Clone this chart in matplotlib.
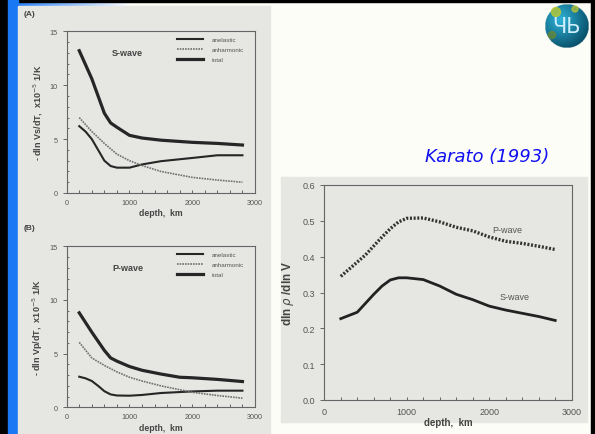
import numpy as np
import matplotlib
matplotlib.use('Agg')
import matplotlib.pyplot as plt
from matplotlib.patches import Rectangle, Circle
from matplotlib.ticker import MultipleLocator, FormatStrFormatter

# S-wave temperature derivatives (x10^-5 1/K)
s_depth = [200, 300, 400, 500, 600, 700, 800, 1000, 1200, 1500, 2000, 2400, 2800]
s_total = [13.2, 11.9, 10.6, 9.0, 7.4, 6.5, 6.1, 5.35, 5.1, 4.9, 4.7, 4.6, 4.45]
s_anel = [6.2, 5.7, 5.0, 4.0, 3.0, 2.5, 2.35, 2.35, 2.65, 2.95, 3.25, 3.5, 3.5]
s_anh_depth = [200, 400, 600, 800, 1000, 1200, 1500, 2000, 2400, 2800]
s_anh = [7.0, 5.7, 4.6, 3.6, 3.0, 2.55, 2.0, 1.45, 1.2, 1.0]

# P-wave temperature derivatives
p_depth = [200, 400, 600, 700, 800, 1000, 1200, 1500, 1800, 2000, 2400, 2800]
p_total = [8.8, 7.0, 5.3, 4.6, 4.3, 3.8, 3.45, 3.1, 2.8, 2.75, 2.6, 2.4]
p_anel_depth = [200, 300, 400, 500, 600, 700, 800, 1000, 1200, 1500, 2000, 2400, 2800]
p_anel = [2.85, 2.7, 2.45, 2.0, 1.5, 1.2, 1.1, 1.08, 1.15, 1.33, 1.48, 1.55, 1.55]
p_anh_depth = [200, 400, 600, 800, 1000, 1200, 1500, 2000, 2400, 2800]
p_anh = [6.05, 4.6, 3.9, 3.3, 2.8, 2.45, 2.0, 1.4, 1.1, 0.85]

# density / velocity scaling
r_p_depth = [200, 300, 400, 500, 600, 700, 800, 900, 1000, 1200, 1400, 1600, 1800, 2000, 2200, 2400, 2600, 2800]
r_p = [0.345, 0.365, 0.385, 0.405, 0.43, 0.455, 0.478, 0.497, 0.507, 0.508, 0.497, 0.482, 0.472,
       0.455, 0.443, 0.437, 0.429, 0.42]
r_s_depth = [200, 400, 500, 600, 700, 800, 900, 1000, 1200, 1400, 1600, 1800, 2000, 2200, 2400, 2600, 2800]
r_s = [0.227, 0.245, 0.27, 0.295, 0.318, 0.335, 0.341, 0.341, 0.336, 0.318, 0.295, 0.28, 0.262,
       0.251, 0.242, 0.233, 0.222]

W, H = 595, 435
PANEL = '#e6e6e3'
INK = '#262626'
TXT = '#555555'
plt.rcParams['font.family'] = ['Liberation Sans', 'DejaVu Sans']

fig = plt.figure(figsize=(W / 100, H / 100), dpi=100)
fig.patch.set_facecolor('#fdfdf7')

# background layer in pixel coordinates
bg = fig.add_axes([0, 0, 1, 1])
bg.set_xlim(0, W)
bg.set_ylim(H, 0)
bg.axis('off')
bg.add_patch(Rectangle((0, 0), W, 3, color='black'))
bg.add_patch(Rectangle((0, 0), 8, H, color='black'))
bg.add_patch(Rectangle((591, 0), 4, H, color='black'))
bg.add_patch(Rectangle((8, 0), 10, H, color='#1a78f5'))
grad = np.linspace(0, 1, 200)[None, :]
bg.imshow(np.dstack([0.1 + 0.9 * grad, 0.47 + 0.53 * grad, 0.96 + 0.04 * grad]),
          extent=(8, 130, 7, 3), aspect='auto')
bg.add_patch(Rectangle((18, 7), 252, H - 7, color=PANEL))
bg.add_patch(Rectangle((281, 178), 306, 245, color=PANEL))

# logo globe
yy, xx = np.mgrid[-1:1:120j, -1:1:120j]
rr = np.sqrt(xx ** 2 + yy ** 2)
shade = np.clip(1 - 0.7 * np.sqrt((xx + 0.3) ** 2 + (yy + 0.3) ** 2), 0, 1)
globe = np.dstack([0.03 + 0.15 * shade, 0.3 + 0.4 * shade, 0.4 + 0.45 * shade, (rr <= 1).astype(float)])
bg.imshow(globe, extent=(545, 589, 49, 5), aspect='auto', zorder=3)
bg.add_patch(Circle((556, 13), 4.5, color='#b8c832', alpha=0.8, zorder=4))
bg.add_patch(Circle((575, 10), 3, color='#c0c830', alpha=0.7, zorder=4))
bg.add_patch(Circle((552, 36), 3.5, color='#7a8a20', alpha=0.6, zorder=4))
bg.text(567, 27, 'ЧЬ', ha='center', va='center', fontsize=15, color='#cdefff',
        family='DejaVu Sans', zorder=5)

bg.text(487, 157, 'Karato (1993)', ha='center', va='center', fontsize=13,
        color='#1010f0', style='italic', family='DejaVu Sans')
bg.text(24, 14, '(A)', fontsize=6, color='#444444', fontweight='bold', va='center')
bg.text(24, 229, '(B)', fontsize=6, color='#444444', fontweight='bold', va='center')


def px_axes(x0, y0, x1, y1):
    return fig.add_axes([x0 / W, 1 - y1 / H, (x1 - x0) / W, (y1 - y0) / H])


def style(ax, size, pad):
    ax.set_facecolor('none')
    for sp in ax.spines.values():
        sp.set_color('#666666')
        sp.set_linewidth(0.8)
    ax.tick_params(which='both', colors='#666666', labelcolor=TXT, labelsize=size, width=0.7)
    ax.tick_params(axis='x', which='both', direction='in', pad=pad, length=2)
    ax.tick_params(axis='y', which='major', direction='out', length=3)
    ax.tick_params(axis='y', which='minor', direction='in', length=1.5)
    ax.set_xlim(0, 3000)
    ax.xaxis.set_major_locator(MultipleLocator(1000))
    ax.xaxis.set_minor_locator(MultipleLocator(200))


def temp_panel(ax, title, ylab, tot, anel, anh):
    style(ax, 5.2, 4)
    ax.plot(*anel, color=INK, lw=1.5, label='anelastic')
    ax.plot(*anh, color='#707070', lw=1.2, ls=(0, (1, 0.6)), label='anharmonic')
    ax.plot(*tot, color=INK, lw=2.3, label='total')
    ax.set_ylim(0, 15)
    ax.yaxis.set_major_locator(MultipleLocator(5))
    ax.yaxis.set_minor_locator(MultipleLocator(1))
    ax.text(0.24, 0.87, title, transform=ax.transAxes, fontsize=6.5, color='#444444',
            fontweight='bold', ha='left', va='center')
    ax.legend(loc='upper left', bbox_to_anchor=(0.585, 0.965), fontsize=4.5, frameon=False,
              handlelength=4.2, handletextpad=1.4, labelcolor=TXT, borderpad=0,
              borderaxespad=0, labelspacing=0.75)
    ax.set_xlabel('depth,  km', fontsize=6.2, color='#444444', fontweight='bold', labelpad=2)
    ax.set_ylabel(ylab, fontsize=6.5, color='#444444', fontweight='bold', labelpad=3)


ax_a = px_axes(66.7, 32.3, 255, 194)
temp_panel(ax_a, 'S-wave', '- dln Vs/dT,  x10$^{-5}$ 1/K',
           (s_depth, s_total), (s_depth, s_anel), (s_anh_depth, s_anh))

ax_b = px_axes(66.7, 247.3, 255, 408.3)
temp_panel(ax_b, 'P-wave', '- dln Vp/dT,  x10$^{-5}$ 1/K',
           (p_depth, p_total), (p_anel_depth, p_anel), (p_anh_depth, p_anh))

ax_r = px_axes(324.3, 186, 571.7, 401)
style(ax_r, 6.5, 5)
ax_r.plot(r_p_depth, r_p, color='#333333', lw=2.4, ls=(0, (0.6, 0.5)))
ax_r.plot(r_s_depth, r_s, color='#222222', lw=2.0)
ax_r.set_ylim(0, 0.6)
ax_r.yaxis.set_major_locator(MultipleLocator(0.1))
ax_r.yaxis.set_minor_locator(MultipleLocator(0.1))
ax_r.yaxis.set_major_formatter(FormatStrFormatter('%.1f'))
ax_r.text(2220, 0.475, 'P-wave', fontsize=6.5, color=TXT, ha='center', va='center')
ax_r.text(2310, 0.288, 'S-wave', fontsize=6.5, color=TXT, ha='center', va='center')
ax_r.set_xlabel('depth,  km', fontsize=7, color='#444444', fontweight='bold', labelpad=1)
ax_r.set_ylabel('dln $\\rho$ /dln V', fontsize=8.5, color='#444444', fontweight='bold', labelpad=5)

fig.savefig('out.png', dpi=100, facecolor=fig.get_facecolor())
